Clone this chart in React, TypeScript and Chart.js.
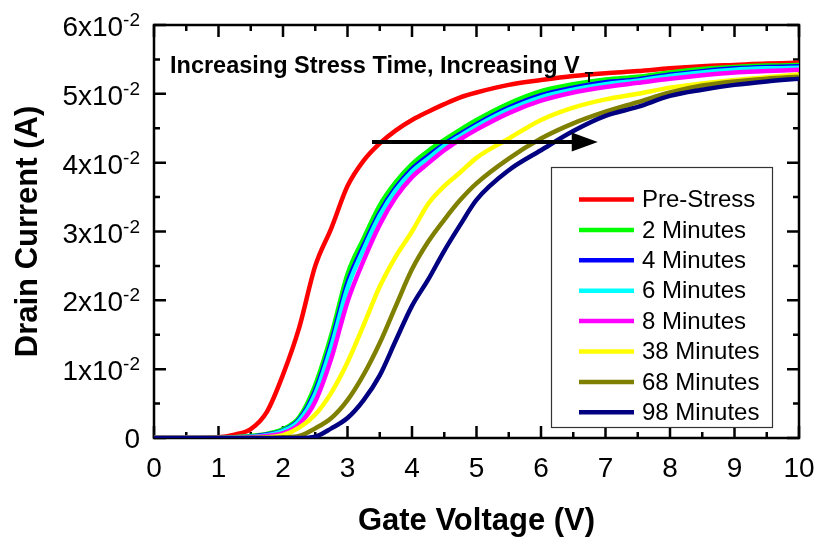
import React, { useEffect, useRef } from "react";
import { Chart, registerables } from "chart.js";

Chart.register(...registerables);

// Gate voltage sweep (V)
const gateVoltage = [0, 0.5, 1, 1.25, 1.5, 1.75, 2, 2.25, 2.5, 2.75, 3, 3.25, 3.5, 3.75, 4, 4.25, 4.5, 4.75, 5, 5.5, 6, 6.5, 7, 7.5, 8, 8.5, 9, 9.5, 10];

// Drain current in units of 10^-2 A for each stress time
const preStress = [0, 0, 0.01, 0.05, 0.13, 0.38, 0.92, 1.6, 2.5, 3.05, 3.66, 4.03, 4.28, 4.47, 4.62, 4.74, 4.85, 4.95, 5.02, 5.13, 5.2, 5.26, 5.3, 5.33, 5.37, 5.4, 5.42, 5.44, 5.45];
const min2 = [0, 0, 0, 0.01, 0.03, 0.06, 0.13, 0.3, 0.77, 1.5, 2.38, 2.9, 3.38, 3.72, 3.98, 4.17, 4.33, 4.48, 4.62, 4.86, 5.04, 5.14, 5.21, 5.25, 5.31, 5.36, 5.39, 5.41, 5.42];
const min4 = [0, 0, 0, 0.01, 0.02, 0.05, 0.11, 0.27, 0.69, 1.4, 2.26, 2.8, 3.28, 3.64, 3.91, 4.1, 4.27, 4.42, 4.56, 4.8, 4.98, 5.09, 5.17, 5.21, 5.28, 5.33, 5.37, 5.39, 5.4];
const min6 = [0, 0, 0, 0.01, 0.02, 0.04, 0.1, 0.25, 0.64, 1.33, 2.18, 2.74, 3.23, 3.6, 3.87, 4.06, 4.24, 4.39, 4.53, 4.77, 4.95, 5.06, 5.14, 5.19, 5.26, 5.31, 5.35, 5.37, 5.38];
const min8 = [0, 0, 0, 0, 0.01, 0.03, 0.07, 0.2, 0.53, 1.16, 1.98, 2.58, 3.1, 3.5, 3.79, 3.99, 4.18, 4.34, 4.48, 4.72, 4.9, 5.02, 5.1, 5.16, 5.22, 5.27, 5.31, 5.33, 5.35];
const min38 = [0, 0, 0, 0, 0, 0.01, 0.04, 0.15, 0.34, 0.66, 1.1, 1.64, 2.2, 2.64, 3.0, 3.4, 3.66, 3.86, 4.07, 4.35, 4.62, 4.8, 4.92, 5.0, 5.09, 5.15, 5.2, 5.24, 5.28];
const min68 = [0, 0, 0, 0, 0, 0, 0.01, 0.03, 0.14, 0.29, 0.55, 0.92, 1.38, 1.92, 2.45, 2.85, 3.17, 3.46, 3.7, 4.06, 4.35, 4.57, 4.74, 4.88, 5.02, 5.12, 5.18, 5.22, 5.25];
const min98 = [0, 0, 0, 0, 0, 0, 0, 0, 0.02, 0.14, 0.29, 0.55, 0.91, 1.42, 1.92, 2.3, 2.72, 3.1, 3.46, 3.89, 4.18, 4.46, 4.68, 4.81, 4.97, 5.06, 5.13, 5.18, 5.22];

const seriesLabels = ["Pre-Stress", "2 Minutes", "4 Minutes", "6 Minutes", "8 Minutes", "38 Minutes", "68 Minutes", "98 Minutes"];
const seriesColors = ["#ff0000", "#00ff00", "#0000ff", "#00ffff", "#ff00ff", "#ffff00", "#808000", "#000080"];
const seriesValues = [preStress, min2, min4, min6, min8, min38, min68, min98];

// Axis ticks
const xMajorTicks = [0, 1, 2, 3, 4, 5, 6, 7, 8, 9, 10];
const xMinorTicks = [0.5, 1.5, 2.5, 3.5, 4.5, 5.5, 6.5, 7.5, 8.5, 9.5];
const yMajorTicks = [0, 1, 2, 3, 4, 5, 6];
const yMinorTicks = [0.5, 1.5, 2.5, 3.5, 4.5, 5.5];
const yTickExponent = "-2";

// Annotation arrow (gate voltage from -> to, at drain current level)
const arrowFromV = 3.38;
const arrowToV = 6.88;
const arrowLevel = 4.3;

const FONT = '"Liberation Sans", Arial, Helvetica, sans-serif';

const framePlugin = {
  id: "frame",
  beforeDatasetsDraw(chart: any) {
    const { ctx, chartArea: a, scales } = chart;
    const xs = scales.x;
    const ys = scales.y;
    ctx.save();
    ctx.strokeStyle = "#000";
    ctx.lineWidth = 2.5;
    ctx.strokeRect(a.left, a.top, a.right - a.left, a.bottom - a.top);

    const major = 12;
    const minor = 6;
    ctx.beginPath();
    const vTick = (v: number, len: number) => {
      const px = xs.getPixelForValue(v);
      ctx.moveTo(px, a.bottom);
      ctx.lineTo(px, a.bottom - len);
      ctx.moveTo(px, a.top);
      ctx.lineTo(px, a.top + len);
    };
    const hTick = (v: number, len: number) => {
      const py = ys.getPixelForValue(v);
      ctx.moveTo(a.left, py);
      ctx.lineTo(a.left + len, py);
      ctx.moveTo(a.right, py);
      ctx.lineTo(a.right - len, py);
    };
    xMajorTicks.forEach((v) => vTick(v, major));
    xMinorTicks.forEach((v) => vTick(v, minor));
    yMajorTicks.forEach((v) => hTick(v, major));
    yMinorTicks.forEach((v) => hTick(v, minor));
    ctx.stroke();

    // x tick labels
    ctx.fillStyle = "#000";
    ctx.font = `28px ${FONT}`;
    ctx.textAlign = "center";
    ctx.textBaseline = "alphabetic";
    xMajorTicks.forEach((v) => {
      ctx.fillText(String(v), xs.getPixelForValue(v), a.bottom + 39);
    });

    // y tick labels with superscript exponent
    const labelRight = 140;
    yMajorTicks.forEach((v) => {
      const py = ys.getPixelForValue(v);
      if (v === 0) {
        ctx.font = `28px ${FONT}`;
        ctx.textAlign = "right";
        ctx.fillText("0", labelRight, py + 10);
        return;
      }
      ctx.font = `19px ${FONT}`;
      const supW = ctx.measureText(yTickExponent).width;
      ctx.textAlign = "left";
      ctx.fillText(yTickExponent, labelRight - supW, py + 1);
      ctx.font = `28px ${FONT}`;
      ctx.textAlign = "right";
      ctx.fillText(`${v}x10`, labelRight - supW, py + 11);
    });

    // axis titles
    ctx.font = `bold 31px ${FONT}`;
    ctx.textAlign = "center";
    ctx.fillText("Gate Voltage (V)", (a.left + a.right) / 2, 530);
    ctx.save();
    ctx.translate(37, (a.top + a.bottom) / 2);
    ctx.rotate(-Math.PI / 2);
    ctx.fillText("Drain Current (A)", 0, 0);
    ctx.restore();
    ctx.restore();
  },
  afterDatasetsDraw(chart: any) {
    const { ctx, scales } = chart;
    const xs = scales.x;
    const ys = scales.y;
    ctx.save();

    // annotation text
    ctx.fillStyle = "#000";
    ctx.font = `bold 23.5px ${FONT}`;
    ctx.textAlign = "left";
    ctx.textBaseline = "alphabetic";
    const note = "Increasing Stress Time, Increasing V";
    ctx.fillText(note, 170, 73);
    const nw = ctx.measureText(note).width;
    ctx.font = `bold 14px ${FONT}`;
    ctx.fillText("T", 170 + nw + 5, 82);

    // arrow
    const x0 = xs.getPixelForValue(arrowFromV);
    const x1 = xs.getPixelForValue(arrowToV);
    const yA = ys.getPixelForValue(arrowLevel);
    ctx.strokeStyle = "#000";
    ctx.lineWidth = 4;
    ctx.beginPath();
    ctx.moveTo(x0, yA);
    ctx.lineTo(x1 - 20, yA);
    ctx.stroke();
    ctx.beginPath();
    ctx.moveTo(x1, yA);
    ctx.lineTo(x1 - 26, yA - 9.5);
    ctx.lineTo(x1 - 26, yA + 9.5);
    ctx.closePath();
    ctx.fill();

    // legend
    const bx = 551, by = 167, bw = 221, bh = 260;
    ctx.fillStyle = "#fff";
    ctx.fillRect(bx, by, bw, bh);
    ctx.strokeStyle = "#333";
    ctx.lineWidth = 1.2;
    ctx.strokeRect(bx + 0.5, by + 0.5, bw, bh);
    ctx.font = `24px ${FONT}`;
    ctx.textBaseline = "middle";
    seriesLabels.forEach((label, i) => {
      const ry = 199.5 + i * 30.4;
      ctx.strokeStyle = seriesColors[i];
      ctx.lineWidth = 4.5;
      ctx.beginPath();
      ctx.moveTo(579, ry);
      ctx.lineTo(634, ry);
      ctx.stroke();
      ctx.fillStyle = "#000";
      ctx.fillText(label, 642, ry + 1);
    });
    ctx.restore();
  },
};

export default function App() {
  const canvasRef = useRef<HTMLCanvasElement | null>(null);

  useEffect(() => {
    const canvas = canvasRef.current;
    if (!canvas) return;
    const chart = new Chart(canvas, {
      type: "line",
      data: {
        datasets: seriesValues.map((vals, i) => ({
          label: seriesLabels[i],
          data: gateVoltage.map((v, j) => ({ x: v, y: vals[j] })),
          borderColor: seriesColors[i],
          backgroundColor: seriesColors[i],
          borderWidth: 4.5,
          pointRadius: 0,
          fill: false,
          cubicInterpolationMode: "monotone" as const,
          order: seriesValues.length - 1 - i,
        })),
      },
      options: {
        responsive: false,
        animation: false,
        devicePixelRatio: 1,
        events: [],
        layout: { padding: { left: 154, right: 20, top: 25, bottom: 100 } },
        plugins: { legend: { display: false }, tooltip: { enabled: false } },
        scales: {
          x: { type: "linear", min: 0, max: 10, display: false },
          y: { type: "linear", min: 0, max: 6, display: false },
        },
      },
      plugins: [framePlugin],
    });
    return () => chart.destroy();
  }, []);

  return (
    <div style={{ position: "absolute", left: 0, top: 0, width: 819, height: 538, background: "#fff" }}>
      <canvas ref={canvasRef} width={819} height={538} style={{ display: "block" }} />
    </div>
  );
}
